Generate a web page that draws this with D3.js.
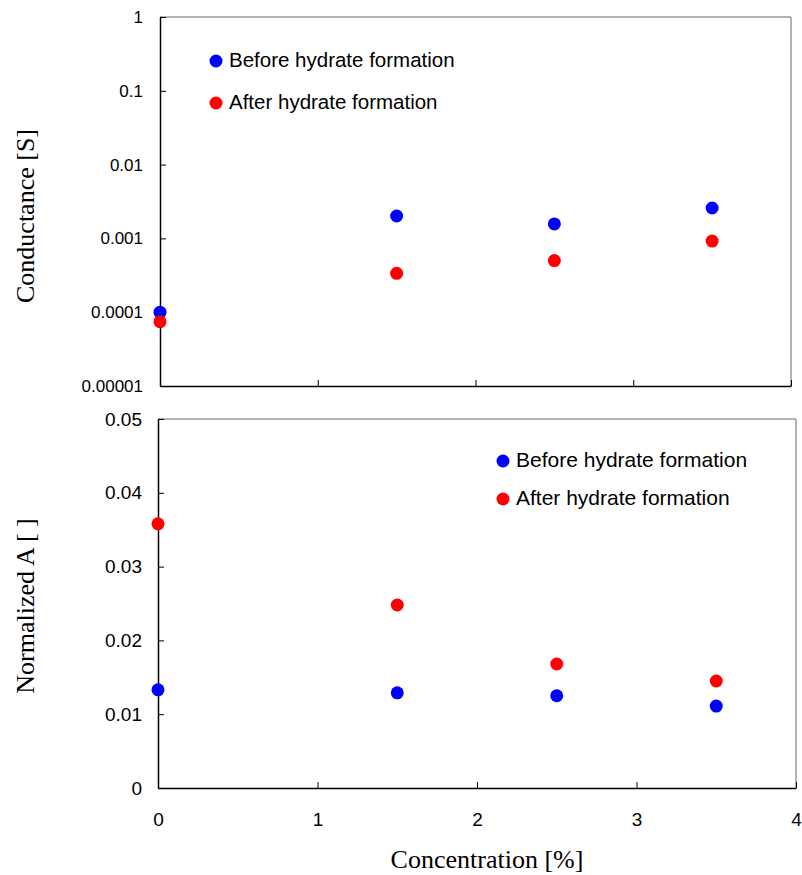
<!DOCTYPE html>
<html lang="en">
<head>
<meta charset="UTF-8">
<title>Conductance and Normalized A</title>
<script src="https://cdn.jsdelivr.net/npm/d3@7"></script>
<style>
  body { margin: 0; background: #fff; }
  text { font-family: Arial, "Liberation Sans", sans-serif; }
  .title { font-family: "Times New Roman", "Liberation Serif", serif; font-size: 26px; }
</style>
</head>
<body>
<svg id="chart" width="802" height="875"></svg>
<script>
// concentration [%]
const conc = [0, 1.5, 2.5, 3.5];
// conductance [S]
const condBefore = [0.0001, 0.00201, 0.00157, 0.00258];
const condAfter = [0.0000743, 0.000336, 0.0005, 0.00092];
// normalized A
const normBefore = [0.0133, 0.0129, 0.0125, 0.0111];
const normAfter = [0.0358, 0.0248, 0.0168, 0.0145];

const logTicks = [0.00001, 0.0001, 0.001, 0.01, 0.1, 1];
const logLabels = ["0.00001", "0.0001", "0.001", "0.01", "0.1", "1"];
const linTicks = [0, 0.01, 0.02, 0.03, 0.04, 0.05];
const xTicks = [0, 1, 2, 3, 4];
const legendNames = ["Before hydrate formation", "After hydrate formation"];
const colors = ["#0000ff", "#ff0000"];

const svg = d3.select("#chart");

function panel(opts) {
  const g = svg.append("g");
  const x = d3.scaleLinear().domain([0, 4]).range([opts.left, opts.right]);
  const y = opts.y;
  const [y0, y1] = y.range();

  // frame: top and right grey
  g.append("line").attr("x1", opts.left).attr("x2", opts.right).attr("y1", y1).attr("y2", y1)
    .attr("stroke", "#999").attr("stroke-width", 1.5);
  g.append("line").attr("x1", opts.right).attr("x2", opts.right).attr("y1", y1).attr("y2", y0)
    .attr("stroke", "#999").attr("stroke-width", 1.5);

  const yAxis = g.append("g").attr("transform", `translate(${opts.left},0)`)
    .call(d3.axisLeft(y).tickValues(opts.yTicks).tickFormat((d, i) => opts.yLabels[i])
      .tickSizeInner(-6).tickSizeOuter(0).tickPadding(opts.yPad));
  const xAxis = g.append("g").attr("transform", `translate(0,${y0})`)
    .call(d3.axisBottom(x).tickValues(xTicks).tickFormat(opts.xLabels ? d3.format("d") : "")
      .tickSizeInner(-6).tickSizeOuter(0).tickPadding(25));
  [yAxis, xAxis].forEach(a => {
    a.select(".domain").attr("stroke", "#000").attr("stroke-width", 1.5);
    a.selectAll(".tick line").attr("stroke", "#000");
    a.selectAll(".tick text").attr("font-size", opts.tickSize).attr("fill", "#000")
      .attr("font-family", "Arial, 'Liberation Sans', sans-serif");
  });

  opts.series.forEach((s, k) => {
    g.selectAll(null).data(s).enter().append("circle")
      .attr("cx", (d, i) => x(conc[i]))
      .attr("cy", d => y(d))
      .attr("r", 6.5)
      .attr("fill", colors[k]);
  });

  legendNames.forEach((name, k) => {
    const ly = opts.legend[1] + k * opts.legendGap;
    g.append("circle").attr("cx", opts.legend[0]).attr("cy", ly).attr("r", 6.5).attr("fill", colors[k]);
    g.append("text").attr("x", opts.legend[0] + 13).attr("y", ly + 6)
      .attr("font-size", opts.legendSize).text(name);
  });

  g.append("text").attr("class", "title")
    .attr("transform", `translate(34,${opts.titleY}) rotate(-90)`)
    .attr("text-anchor", "middle").text(opts.title);
}

panel({
  left: 160, right: 791,
  y: d3.scaleLog().domain([0.00001, 1]).range([386, 17]),
  yTicks: logTicks, yLabels: logLabels,
  xLabels: false, tickSize: 17, yPad: 17,
  series: [condBefore, condAfter],
  legend: [216, 61], legendGap: 42, legendSize: 20.5,
  title: "Conductance [S]", titleY: 216
});

panel({
  left: 158, right: 796,
  y: d3.scaleLinear().domain([0, 0.05]).range([788, 419]),
  yTicks: linTicks, yLabels: linTicks.map(d => d === 0 ? "0" : String(d)),
  xLabels: true, tickSize: 19, yPad: 16,
  series: [normBefore, normAfter],
  legend: [503, 461], legendGap: 38, legendSize: 21,
  title: "Normalized A [ ]", titleY: 606
});

svg.append("text").attr("class", "title")
  .attr("x", 487).attr("y", 868).attr("text-anchor", "middle")
  .text("Concentration [%]");
</script>
</body>
</html>
